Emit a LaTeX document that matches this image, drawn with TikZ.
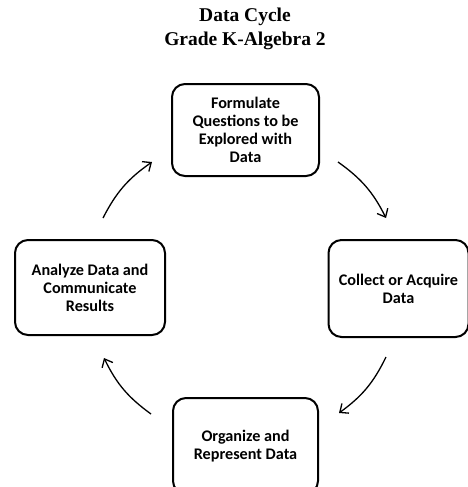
\documentclass[tikz,border=0pt]{standalone}
\usepackage{fontspec}
\setmainfont{Carlito}
\newfontfamily\titlefont{Liberation Serif}
\usetikzlibrary{arrows.meta}
\begin{document}
\begin{tikzpicture}[x=1pt,y=-1pt,
  stagebox/.style={draw=black, line width=2pt, rounded corners=13pt, align=center,
    font=\fontsize{16.2}{18}\selectfont\bfseries, inner sep=0pt},
  cyclearrow/.style={line width=1.3pt, -{Straight Barb[length=7pt,width=12pt,line width=1.3pt]}},
  titletext/.style={align=center, font=\titlefont\fontsize{19.5}{24}\selectfont\bfseries}]
\useasboundingbox (0,0) rectangle (468,487);
\clip (0,0) rectangle (468,487);
\node[titletext] (title) at (245,29) {Data Cycle\\Grade K-Algebra 2};
\node[stagebox, minimum width=147pt, minimum height=92pt] (top) at (245.5,130)
  {Formulate\\Questions to be\\Explored with\\Data};
\node[stagebox, minimum width=140pt, minimum height=97pt] (right) at (398.5,288.5)
  {Collect or Acquire\\Data};
\node[stagebox, minimum width=150pt, minimum height=95pt] (left) at (90,287.5)
  {Analyze Data and\\Communicate\\Results};
\node[stagebox, minimum width=145pt, minimum height=96pt] (bottom) at (245.5,446)
  {Organize and\\Represent Data};
\coordinate (a1s) at (338,162);
\coordinate (a1e) at (386,218);
\coordinate (a2s) at (386,357);
\coordinate (a2e) at (339,413);
\coordinate (a3s) at (151,414);
\coordinate (a3e) at (104,358);
\coordinate (a4s) at (103,218);
\coordinate (a4e) at (152,162);
\draw[cyclearrow] (a1s) to[bend left=14] (a1e);
\draw[cyclearrow] (a2s) to[bend left=14] (a2e);
\draw[cyclearrow] (a3s) to[bend left=14] (a3e);
\draw[cyclearrow] (a4s) to[bend left=14] (a4e);
\end{tikzpicture}
\end{document}
